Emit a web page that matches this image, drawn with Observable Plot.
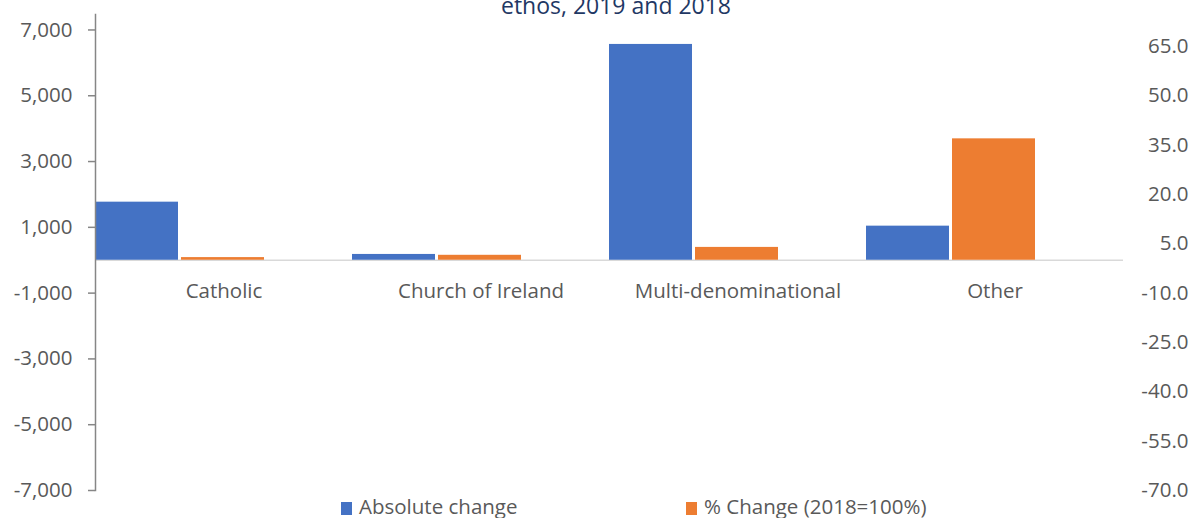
<!DOCTYPE html>
<html>
<head>
<meta charset="utf-8">
<script src="https://cdn.jsdelivr.net/npm/d3@7"></script>
<script src="https://cdn.jsdelivr.net/npm/@observablehq/plot@0.6"></script>
<style>
  html, body { margin: 0; padding: 0; background: #fff; }
  #wrap { position: relative; width: 1200px; height: 518px; overflow: hidden; font-family: "Open Sans", sans-serif; }
  #chart { position: absolute; left: 0; top: 0; }
  #title { position: absolute; top: -6px; left: 0; width: 1232px; text-align: center; font-size: 23px; line-height: 23px; color: #1f3864; white-space: nowrap; }
  .leg { position: absolute; top: 496px; font-size: 20.5px; line-height: 20.5px; color: #595959; white-space: nowrap; }
  .sw { position: absolute; top: 502px; width: 11px; height: 13px; }
</style>
</head>
<body>
<div id="wrap">
  <div id="chart"></div>
  <div id="title">ethos, 2019 and 2018</div>
  <div class="sw" id="sw0"></div><div class="leg" id="lg0"></div>
  <div class="sw" id="sw1"></div><div class="leg" id="lg1"></div>
</div>
<script>
const categories = ["Catholic", "Church of Ireland", "Multi-denominational", "Other"];
const series = ["Absolute change", "% Change (2018=100%)"];
const absoluteChange = [1765, 176, 6560, 1036];
const percentChange = [0.8, 1.5, 3.9, 36.9];
const leftTicks = [-7000, -5000, -3000, -1000, 1000, 3000, 5000, 7000];
const rightTicks = [-70, -55, -40, -25, -10, 5, 20, 35, 50, 65];
const colors = ["#4472c4", "#ed7d31"];

// right axis is a secondary scale: 1 % point on the right = 100 units on the left
const ratio = 100;

const rows = [];
categories.forEach((c, i) => {
  rows.push({category: c, series: series[0], value: absoluteChange[i]});
  rows.push({category: c, series: series[1], value: percentChange[i] * ratio});
});

const fmtLeft = d => (d < 0 ? "-" : "") + d3.format(",")(Math.abs(d));
const fmtRight = d => { const v = d / ratio; return (v < 0 ? "-" : "") + Math.abs(v).toFixed(1); };

const chart = Plot.plot({
  width: 1200,
  height: 518,
  marginLeft: 95,
  marginRight: 77,
  marginTop: 14,
  marginBottom: 28,
  style: {fontFamily: "Open Sans, sans-serif", fontSize: "20.5px", color: "#595959", background: "white"},
  fx: {domain: categories, padding: 0, axis: null, label: null},
  x: {domain: series, paddingInner: 0.035, paddingOuter: 0.5, align: 0, axis: null, label: null},
  y: {domain: [-7000, 7470], nice: false, axis: null, label: null},
  color: {domain: series, range: colors},
  marks: [
    Plot.ruleY([0], {stroke: "#d9d9d9", strokeWidth: 1.5}),
    Plot.barY(rows, {fx: "category", x: "series", y: "value", fill: "series"}),
    Plot.text(categories, {fx: d => d, text: d => d, y: 0, dy: 31, frameAnchor: "middle", fill: "#595959", fontSize: 20.5}),
    Plot.axisY({anchor: "left", label: null, ticks: leftTicks, tickFormat: fmtLeft, tickSize: 7, tickPadding: 16, stroke: "#868686", strokeWidth: 1.5, fill: "#595959", fontSize: 20.5}),
    Plot.axisY({anchor: "right", label: null, ticks: rightTicks.map(d => d * ratio), tickFormat: fmtRight, tickSize: 0, tickPadding: 65, textAnchor: "end", fill: "#595959", fontSize: 20.5}),
    Plot.frame({anchor: "left", stroke: "#868686", strokeWidth: 1.5, facetAnchor: "left"})
  ]
});
document.getElementById("chart").appendChild(chart);

const legX = [[341, 359], [686, 704]];
series.forEach((s, i) => {
  const sw = document.getElementById("sw" + i);
  sw.style.left = legX[i][0] + "px";
  sw.style.background = colors[i];
  const lg = document.getElementById("lg" + i);
  lg.style.left = legX[i][1] + "px";
  lg.textContent = s;
});
</script>
</body>
</html>
